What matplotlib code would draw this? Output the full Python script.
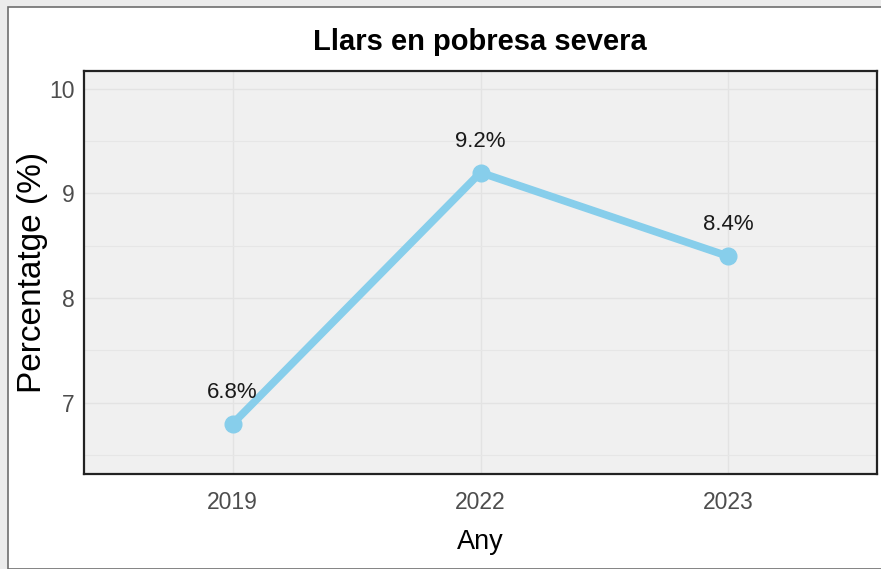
import matplotlib

matplotlib.use("Agg")
import matplotlib.pyplot as plt
from matplotlib.patches import Rectangle
from matplotlib.ticker import MultipleLocator

years = ["2019", "2022", "2023"]
values = [6.8, 9.2, 8.4]
labels = ["6.8%", "9.2%", "8.4%"]
title = "Llars en pobresa severa"
x_label = "Any"
y_label = "Percentatge (%)"

NARROW = ["Liberation Sans Narrow", "Liberation Sans", "DejaVu Sans"]
WIDE = ["Liberation Sans", "DejaVu Sans"]

W, H = 881, 569
fig = plt.figure(figsize=(W / 100, H / 100), dpi=100, facecolor="#ececec")

# white card with thin grey frame (screenshot border)
fig.patches.append(Rectangle((8 / W, 0), 1, 1 - 7 / H, transform=fig.transFigure,
                             facecolor="white", edgecolor="#6e6e6e", linewidth=1.2,
                             zorder=-5))

ax = fig.add_axes([84 / W, 1 - 474 / H, (877 - 84) / W, (474 - 71) / H])
ax.set_zorder(2)
ax.set_facecolor("#f0f0f0")

x = range(1, len(years) + 1)
ax.plot(x, values, color="#87ceeb", linewidth=5.5, marker="o", markersize=12,
        solid_capstyle="round", zorder=3)
for xi, v, lab in zip(x, values, labels):
    ax.text(xi, v + 0.2, lab, ha="center", va="bottom", fontsize=16,
            family=NARROW, color="#1a1a1a", zorder=4)

ax.set_xlim(0.4, 3.6)
ax.set_ylim(6.32, 10.17)
ax.set_xticks(list(x))
ax.set_xticklabels(years)
ax.yaxis.set_major_locator(MultipleLocator(1))
ax.yaxis.set_minor_locator(MultipleLocator(0.5))
ax.set_yticks([7, 8, 9, 10])

ax.grid(True, which="major", color="#e3e3e3", linewidth=1.0)
ax.grid(True, which="minor", axis="y", color="#e6e6e6", linewidth=0.8)
ax.set_axisbelow(True)

for s in ax.spines.values():
    s.set_color("#222222")
    s.set_linewidth(1.6)

ax.tick_params(axis="both", which="both", length=3, color="white", width=1,
               labelsize=16.5, labelcolor="#4d4d4d")
ax.tick_params(axis="x", pad=9)
for t in ax.get_xticklabels() + ax.get_yticklabels():
    t.set_family(NARROW)

ax.set_xlabel(x_label, fontsize=19.5, family=NARROW, color="black", labelpad=11)
ax.set_ylabel(y_label, fontsize=24, family=WIDE, color="black",
              va="center")
ax.yaxis.set_label_coords((33 - 84) / 793, 0.5)
fig.text(480 / W, 1 - 42 / H, title, ha="center", va="center", fontsize=21,
         fontweight="bold", family=NARROW, color="black")

fig.savefig("out.png", dpi=100, facecolor=fig.get_facecolor())
